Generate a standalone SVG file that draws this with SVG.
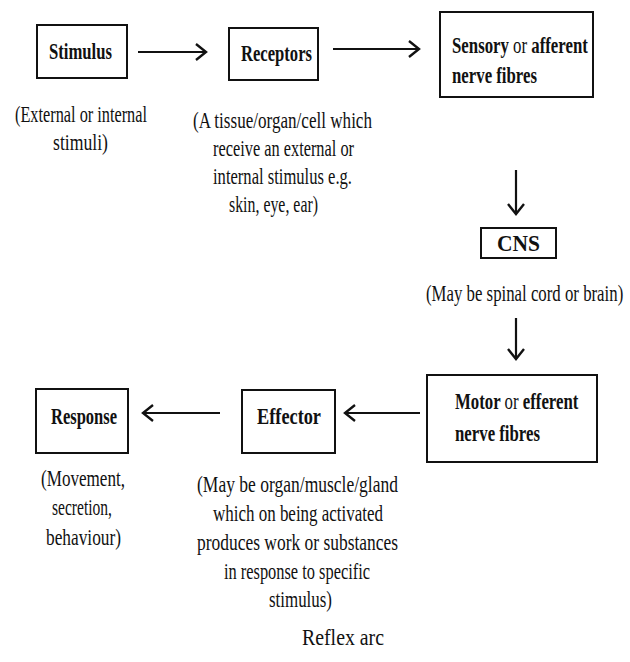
<svg xmlns="http://www.w3.org/2000/svg" width="630" height="662" viewBox="0 0 630 662">
<defs>
<style>
.box{fill:#fff;stroke:#111;stroke-width:2}
.lb{font-family:"Liberation Serif","Times New Roman",serif;font-weight:bold;font-size:24px;fill:#111}
.ds{font-family:"Liberation Serif","Times New Roman",serif;font-size:24px;fill:#111}
.rg{font-weight:normal}
.ar{fill:none;stroke:#111;stroke-width:2.2}
</style>
<marker id="ah" markerUnits="userSpaceOnUse" markerWidth="16" markerHeight="22" refX="13" refY="11" orient="auto">
<path d="M3,3 L13,11 L3,19" fill="none" stroke="#111" stroke-width="2.4"/>
</marker>
</defs>
<rect width="630" height="662" fill="#fff"/>
<g id="connectors">
<line class="ar" x1="138" y1="52" x2="206" y2="52" marker-end="url(#ah)"/>
<line class="ar" x1="333" y1="49" x2="419" y2="49" marker-end="url(#ah)"/>
<line class="ar" x1="516" y1="170" x2="516" y2="214" marker-end="url(#ah)"/>
<line class="ar" x1="516" y1="318" x2="516" y2="359" marker-end="url(#ah)"/>
<line class="ar" x1="420" y1="413" x2="345" y2="413" marker-end="url(#ah)"/>
<line class="ar" x1="220" y1="413" x2="143" y2="413" marker-end="url(#ah)"/>
</g>
<g id="stimulus">
<rect class="box" x="37" y="25" width="90" height="53"/>
<text class="lb" x="49" y="59" textLength="63" lengthAdjust="spacingAndGlyphs">Stimulus</text>
<text class="ds" x="15" y="122" textLength="132" lengthAdjust="spacingAndGlyphs">(External or internal</text>
<text class="ds" x="53" y="150" textLength="55" lengthAdjust="spacingAndGlyphs">stimuli)</text>
</g>
<g id="receptors">
<rect class="box" x="229" y="28" width="89" height="52"/>
<text class="lb" x="241" y="61" textLength="71" lengthAdjust="spacingAndGlyphs">Receptors</text>
<text class="ds" x="193" y="128" textLength="179" lengthAdjust="spacingAndGlyphs">(A tissue/organ/cell which</text>
<text class="ds" x="213" y="156" textLength="141" lengthAdjust="spacingAndGlyphs">receive an external or</text>
<text class="ds" x="213" y="184" textLength="139" lengthAdjust="spacingAndGlyphs">internal stimulus e.g.</text>
<text class="ds" x="229" y="212" textLength="89" lengthAdjust="spacingAndGlyphs">skin, eye, ear)</text>
</g>
<g id="sensory">
<rect class="box" x="440" y="12" width="153" height="85"/>
<g transform="translate(452,53) scale(0.7,1)"><text class="lb" x="0" y="0">Sensory <tspan class="rg">or</tspan> afferent</text></g>
<text class="lb" x="452" y="83" textLength="85" lengthAdjust="spacingAndGlyphs">nerve fibres</text>
</g>
<g id="cns">
<rect class="box" x="481" y="228" width="75" height="30"/>
<text class="lb" x="497" y="251" textLength="43" lengthAdjust="spacingAndGlyphs">CNS</text>
<g transform="translate(426,301) scale(0.7,1)"><text class="ds" x="0" y="0">(May be spinal cord or brain)</text></g>
</g>
<g id="motor">
<rect class="box" x="427" y="375" width="170" height="87"/>
<g transform="translate(455,409) scale(0.7,1)"><text class="lb" x="0" y="0">Motor <tspan class="rg">or</tspan> efferent</text></g>
<text class="lb" x="455" y="441" textLength="85" lengthAdjust="spacingAndGlyphs">nerve fibres</text>
</g>
<g id="effector">
<rect class="box" x="242" y="390" width="93" height="63"/>
<text class="lb" x="257" y="424" textLength="64" lengthAdjust="spacingAndGlyphs">Effector</text>
<text class="ds" x="197" y="492" textLength="201" lengthAdjust="spacingAndGlyphs">(May be organ/muscle/gland</text>
<text class="ds" x="213" y="521" textLength="170" lengthAdjust="spacingAndGlyphs">which on being activated</text>
<text class="ds" x="197" y="550" textLength="201" lengthAdjust="spacingAndGlyphs">produces work or substances</text>
<text class="ds" x="224" y="579" textLength="146" lengthAdjust="spacingAndGlyphs">in response to specific</text>
<text class="ds" x="269" y="607" textLength="63" lengthAdjust="spacingAndGlyphs">stimulus)</text>
</g>
<g id="response">
<rect class="box" x="36" y="389" width="92" height="64"/>
<text class="lb" x="51" y="424" textLength="66" lengthAdjust="spacingAndGlyphs">Response</text>
<text class="ds" x="41" y="486" textLength="84" lengthAdjust="spacingAndGlyphs">(Movement,</text>
<text class="ds" x="52" y="515" textLength="60" lengthAdjust="spacingAndGlyphs">secretion,</text>
<text class="ds" x="46" y="545" textLength="75" lengthAdjust="spacingAndGlyphs">behaviour)</text>
</g>
<g id="caption">
<text class="ds" x="302" y="645" textLength="82" lengthAdjust="spacingAndGlyphs">Reflex  arc</text>
</g>
</svg>
